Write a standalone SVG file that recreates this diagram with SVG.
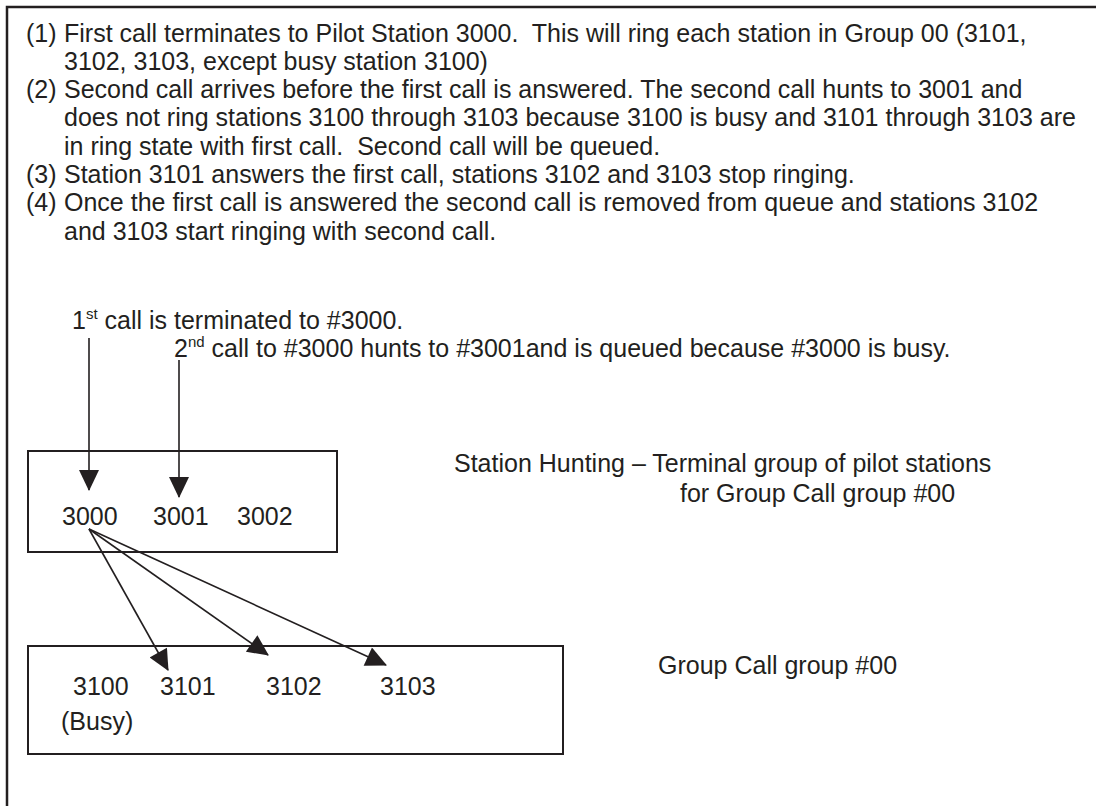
<svg xmlns="http://www.w3.org/2000/svg" width="1096" height="806" viewBox="0 0 1096 806">
<style>
  text { font-family: "Liberation Sans", Arial, sans-serif; font-size: 25px; fill: #231f20; white-space: pre; }
  .sup { font-size: 15px; }
  .frame { fill: none; stroke: #231f20; stroke-width: 2.5; }
  .box { fill: none; stroke: #231f20; stroke-width: 2; }
  .conn { fill: none; stroke: #231f20; stroke-width: 1.6; }
</style>
<defs>
  <marker id="ah" markerUnits="userSpaceOnUse" markerWidth="22" markerHeight="20" viewBox="0 0 20 19" refX="19" refY="9.5" orient="auto">
    <path d="M0,0 L20,9.5 L0,19 z" fill="#231f20"/>
  </marker>
</defs>
<rect width="1096" height="806" fill="#ffffff"/>
<path class="frame" d="M7,806 V7 H1096"/>

<g id="notes" xml:space="preserve">
  <text x="26" y="41.5">(1)</text><text x="64" y="41.5">First call terminates to Pilot Station 3000.  This will ring each station in Group 00 (3101,</text>
  <text x="64" y="69.8">3102, 3103, except busy station 3100)</text>
  <text x="26" y="98.1">(2)</text><text x="64" y="98.1">Second call arrives before the first call is answered. The second call hunts to 3001 and</text>
  <text x="64" y="126.4">does not ring stations 3100 through 3103 because 3100 is busy and 3101 through 3103 are</text>
  <text x="64" y="154.7">in ring state with first call.  Second call will be queued.</text>
  <text x="26" y="183">(3)</text><text x="64" y="183">Station 3101 answers the first call, stations 3102 and 3103 stop ringing.</text>
  <text x="26" y="211.3">(4)</text><text x="64" y="211.3">Once the first call is answered the second call is removed from queue and stations 3102</text>
  <text x="64" y="239.6">and 3103 start ringing with second call.</text>
</g>

<g id="call1-label">
  <text x="72" y="329">1<tspan class="sup" dy="-10">st</tspan><tspan dy="10"> call is terminated to #3000.</tspan></text>
</g>
<g id="call2-label">
  <text x="174" y="357">2<tspan class="sup" dy="-10">nd</tspan><tspan dy="10"> call to #3000 hunts to #3001and is queued because #3000 is busy.</tspan></text>
</g>

<g id="pilot-group">
  <rect class="box" x="28" y="451" width="309" height="101"/>
  <text x="62" y="525">3000</text>
  <text x="153" y="525">3001</text>
  <text x="237" y="525">3002</text>
</g>
<g id="pilot-group-label">
  <text x="454" y="472">Station Hunting – Terminal group of pilot stations</text>
  <text x="680" y="502">for Group Call group #00</text>
</g>

<g id="call-group">
  <rect class="box" x="28" y="646" width="535" height="108"/>
  <text x="73" y="695">3100</text>
  <text x="160" y="695">3101</text>
  <text x="266" y="695">3102</text>
  <text x="380" y="695">3103</text>
  <text x="61" y="730">(Busy)</text>
</g>
<g id="call-group-label">
  <text x="658" y="674">Group Call group #00</text>
</g>

<g id="connectors">
  <line class="conn" x1="89" y1="338" x2="89" y2="490" marker-end="url(#ah)"/>
  <line class="conn" x1="179" y1="360" x2="179" y2="497" marker-end="url(#ah)"/>
  <line class="conn" x1="89" y1="529" x2="168" y2="670" marker-end="url(#ah)"/>
  <line class="conn" x1="89" y1="529" x2="268" y2="655" marker-end="url(#ah)"/>
  <line class="conn" x1="89" y1="529" x2="386" y2="665" marker-end="url(#ah)"/>
</g>
</svg>
